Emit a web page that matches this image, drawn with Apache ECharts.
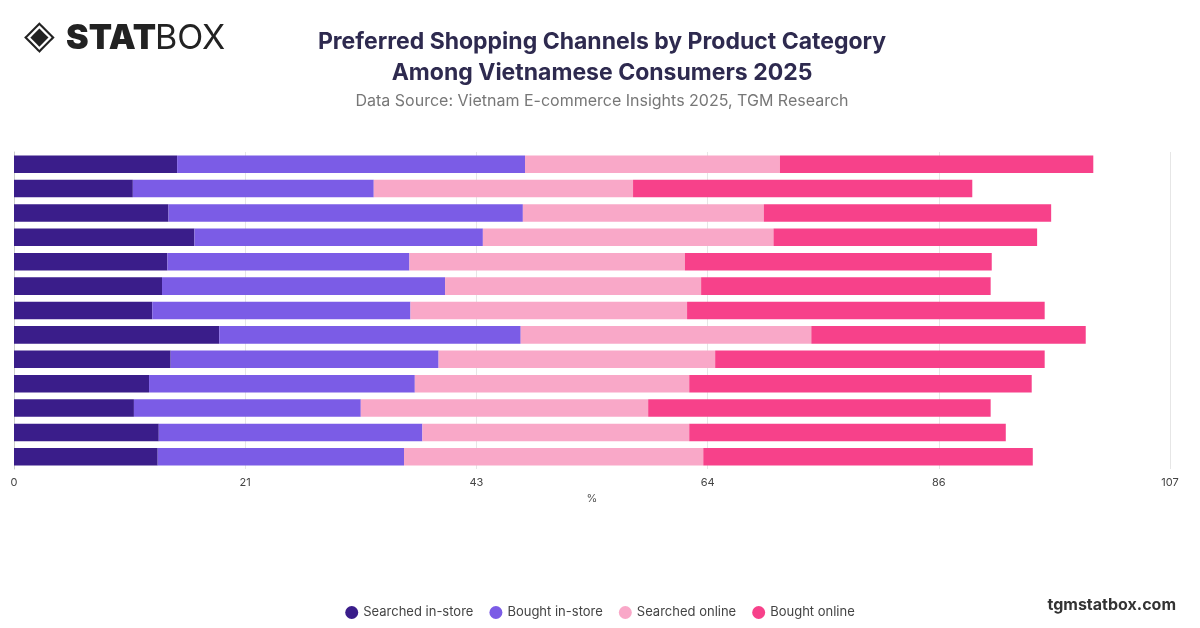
<!DOCTYPE html>
<html><head><meta charset="utf-8">
<script src="https://cdn.jsdelivr.net/npm/echarts@6/dist/echarts.min.js"></script>
<style>html,body{margin:0;padding:0;background:#fff}#c{width:1200px;height:628px}</style>
</head><body><div id="c"></div>
<script>
const categories = ['Category 1','Category 2','Category 3','Category 4','Category 5','Category 6','Category 7','Category 8','Category 9','Category 10','Category 11','Category 12','Category 13'];
const searchedInStore = [15.1,11.0,14.3,16.7,14.2,13.7,12.8,19.0,14.5,12.5,11.1,13.4,13.3];
const boughtInStore   = [32.2,22.3,32.8,26.7,22.4,26.2,23.9,27.9,24.8,24.6,21.0,24.4,22.8];
const searchedOnline  = [23.6,24.0,22.3,26.9,25.5,23.7,25.6,26.9,25.6,25.4,26.6,24.7,27.7];
const boughtOnline    = [29.0,31.4,26.6,24.4,28.4,26.8,33.1,25.4,30.5,31.7,31.7,29.3,30.5];
const seriesNames = ['Searched in-store','Bought in-store','Searched online','Bought online'];
const colors = ['#3a1d8a','#7b5ce6','#f9a8c8','#f7418a'];
const values = [searchedInStore, boughtInStore, searchedOnline, boughtOnline];

const chart = echarts.init(document.getElementById('c'));
chart.setOption({
  animation:false,
  title:[{text:'Preferred Shopping Channels by Product Category\nAmong Vietnamese Consumers 2025',left:597,top:22,textAlign:'center',
    textStyle:{fontFamily:'Inter',fontSize:23,fontWeight:'bold',color:'#2e2a4f',lineHeight:31},
    subtext:'Data Source: Vietnam E-commerce Insights 2025, TGM Research',itemGap:4,
    subtextStyle:{fontFamily:'Inter',fontSize:16,color:'#777'}}],
  graphic:[
    {type:'text',left:24,top:18,style:{text:'◈',font:'bold 40px DejaVu Sans',fill:'#222'}},
    {type:'text',left:66,top:22,style:{text:'STAT',font:'900 34px Inter',fill:'#222'}},
    {type:'text',left:155,top:22,style:{text:'BOX',font:'400 34px Inter',fill:'#222'}},
    {type:'text',right:24,top:597,style:{text:'tgmstatbox.com',font:'bold 16px Inter',fill:'#333'}}
  ],
  legend:{bottom:4,left:'center',icon:'circle',itemWidth:13,itemHeight:13,itemGap:16,
    textStyle:{fontFamily:'Inter',fontSize:13,color:'#444'}},
  grid:{left:14,right:30,top:152,bottom:159,containLabel:false},
  xAxis:{type:'value',min:0,max:107,interval:21.4,name:'%',nameLocation:'middle',nameGap:22,
    nameTextStyle:{fontFamily:'Inter',fontSize:11,color:'#555'},
    axisLabel:{formatter:v=>Math.round(v),fontFamily:'Inter',fontSize:11,color:'#444'},
    splitLine:{lineStyle:{color:'#e6e6e6'}}},
  yAxis:{type:'category',data:categories,inverse:true,axisLabel:{show:false},axisTick:{show:false},
    axisLine:{lineStyle:{color:'#ccc'}}},
  series:values.map((d,i)=>({name:seriesNames[i],type:'bar',stack:'all',data:d,barWidth:'72%',
    itemStyle:{color:colors[i]}}))
});
</script></body></html>
